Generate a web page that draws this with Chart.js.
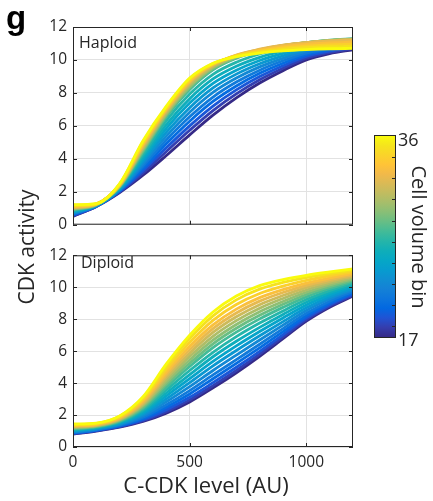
<!DOCTYPE html>
<html lang="en">
<head>
<meta charset="UTF-8">
<title>CDK activity vs C-CDK level</title>
<script src="https://cdn.jsdelivr.net/npm/chart.js"></script>
<style>
    body {
        margin: 0;
        background: #ffffff;
        font-family: 'Open Sans', sans-serif;
        color: #262626;
    }
    #wrap {
        position: relative;
        width: 433px;
        height: 501px;
        overflow: hidden;
    }
    canvas {
        position: absolute;
        left: 0;
    }
    #topChart { top: 0; }
    #botChart { top: 240px; }
    .txt {
        position: absolute;
        white-space: nowrap;
        line-height: 1;
    }
    .panel { font-size: 16px; }
    .center { transform: translate(-50%, -50%); }
    #letter {
        left: 6px;
        top: 1px;
        font-family: 'Liberation Sans', Arial, sans-serif;
        font-weight: bold;
        font-size: 33px;
        color: #000;
    }
    #colorbar {
        position: absolute;
        left: 374px;
        top: 135px;
        width: 22px;
        height: 203px;
        box-sizing: border-box;
        border: 1px solid #262626;
    }
    .cbtick {
        position: absolute;
        right: 0;
        width: 3px;
        height: 1px;
        background: #262626;
    }
</style>
</head>
<body>
<div id="wrap">
    <canvas id="topChart" width="433" height="240"></canvas>
    <canvas id="botChart" width="433" height="261"></canvas>

    <div class="txt" id="letter">g</div>
    <div class="txt panel" style="left:79px; top:34px;">Haploid</div>
    <div class="txt panel" style="left:81px; top:254px;">Diploid</div>

    <div class="txt center" style="left:26px; top:247px; font-size:21px; transform:translate(-50%,-50%) rotate(-90deg);">CDK activity</div>
    <div class="txt center" style="left:206px; top:484px; font-size:22px;">C-CDK level (AU)</div>

    <div id="colorbar"></div>
    <div class="txt" style="left:398px; top:130px; font-size:18px;">36</div>
    <div class="txt" style="left:398px; top:330px; font-size:18px;">17</div>
    <div class="txt center" style="left:419px; top:237px; font-size:20px; transform:translate(-50%,-50%) rotate(90deg);">Cell volume bin</div>
</div>

<script>
    // C-CDK level (AU) sample positions
    const cdkLevel = [0, 100, 200, 300, 400, 500, 600, 700, 800, 900, 1000, 1100, 1200];
    const bins = [17, 18, 19, 20, 21, 22, 23, 24, 25, 26, 27, 28, 29, 30, 31, 32, 33, 34, 35, 36];
    const xTicks = [0, 500, 1000];
    const yTicks = [0, 2, 4, 6, 8, 10, 12];
    const cbTicks = [18, 20, 22, 24, 26, 28, 30, 32, 34];

    // CDK activity, one row per cell volume bin (17 .. 36)
    const haploid = [
        [0.50, 1.10, 1.95, 3.00, 4.20, 5.45, 6.65, 7.70, 8.60, 9.35, 10.00, 10.38, 10.62],
        [0.54, 1.11, 1.99, 3.14, 4.44, 5.73, 6.93, 7.94, 8.80, 9.50, 10.11, 10.46, 10.69],
        [0.58, 1.12, 2.02, 3.28, 4.67, 6.00, 7.20, 8.18, 8.99, 9.65, 10.21, 10.54, 10.76],
        [0.62, 1.13, 2.06, 3.42, 4.91, 6.28, 7.48, 8.42, 9.19, 9.80, 10.32, 10.63, 10.82],
        [0.66, 1.14, 2.09, 3.56, 5.14, 6.55, 7.75, 8.66, 9.38, 9.95, 10.42, 10.71, 10.89],
        [0.70, 1.15, 2.13, 3.70, 5.38, 6.83, 8.03, 8.90, 9.58, 10.10, 10.53, 10.79, 10.96],
        [0.74, 1.16, 2.16, 3.84, 5.61, 7.10, 8.30, 9.14, 9.77, 10.25, 10.63, 10.87, 11.03],
        [0.78, 1.17, 2.20, 3.98, 5.85, 7.38, 8.58, 9.38, 9.97, 10.40, 10.74, 10.95, 11.10],
        [0.82, 1.18, 2.23, 4.12, 6.08, 7.65, 8.85, 9.62, 10.16, 10.55, 10.84, 11.04, 11.16],
        [0.86, 1.19, 2.27, 4.26, 6.32, 7.93, 9.13, 9.86, 10.36, 10.70, 10.95, 11.12, 11.23],
        [0.90, 1.20, 2.30, 4.40, 6.55, 8.20, 9.40, 10.10, 10.55, 10.85, 11.05, 11.20, 11.30],
        [0.93, 1.21, 2.32, 4.48, 6.63, 8.29, 9.46, 10.14, 10.57, 10.86, 11.05, 11.19, 11.28],
        [0.96, 1.22, 2.34, 4.56, 6.71, 8.38, 9.52, 10.18, 10.59, 10.87, 11.05, 11.18, 11.27],
        [0.99, 1.23, 2.36, 4.64, 6.79, 8.47, 9.58, 10.22, 10.61, 10.88, 11.05, 11.17, 11.25],
        [1.02, 1.24, 2.38, 4.72, 6.87, 8.56, 9.64, 10.26, 10.63, 10.89, 11.05, 11.16, 11.24],
        [1.05, 1.25, 2.40, 4.80, 6.95, 8.65, 9.70, 10.30, 10.65, 10.90, 11.05, 11.15, 11.22],
        [1.09, 1.26, 2.43, 4.88, 7.01, 8.71, 9.73, 10.28, 10.59, 10.81, 10.95, 11.03, 11.09],
        [1.14, 1.27, 2.45, 4.95, 7.08, 8.78, 9.75, 10.25, 10.54, 10.73, 10.84, 10.92, 10.96],
        [1.18, 1.27, 2.48, 5.03, 7.14, 8.84, 9.78, 10.23, 10.48, 10.64, 10.74, 10.80, 10.83],
        [1.22, 1.28, 2.50, 5.10, 7.20, 8.90, 9.80, 10.20, 10.42, 10.55, 10.63, 10.68, 10.70]
    ];

    const diploid = [
        [0.80, 1.00, 1.25, 1.60, 2.12, 2.82, 3.70, 4.65, 5.68, 6.78, 7.88, 8.75, 9.45],
        [0.82, 1.02, 1.27, 1.65, 2.21, 2.95, 3.84, 4.79, 5.81, 6.89, 7.97, 8.82, 9.50],
        [0.85, 1.04, 1.30, 1.71, 2.34, 3.11, 4.03, 4.99, 5.99, 7.04, 8.08, 8.91, 9.57],
        [0.88, 1.06, 1.33, 1.79, 2.49, 3.32, 4.27, 5.23, 6.21, 7.22, 8.22, 9.02, 9.65],
        [0.91, 1.09, 1.37, 1.86, 2.64, 3.53, 4.51, 5.47, 6.43, 7.41, 8.37, 9.13, 9.74],
        [0.95, 1.12, 1.41, 1.96, 2.83, 3.78, 4.79, 5.75, 6.70, 7.63, 8.54, 9.26, 9.84],
        [0.99, 1.15, 1.45, 2.05, 3.01, 4.03, 5.08, 6.04, 6.96, 7.85, 8.71, 9.39, 9.94],
        [1.02, 1.18, 1.50, 2.14, 3.20, 4.28, 5.36, 6.33, 7.23, 8.08, 8.89, 9.52, 10.05],
        [1.06, 1.21, 1.54, 2.24, 3.38, 4.53, 5.65, 6.62, 7.49, 8.30, 9.06, 9.66, 10.15],
        [1.10, 1.24, 1.58, 2.33, 3.57, 4.79, 5.93, 6.91, 7.76, 8.52, 9.23, 9.79, 10.25],
        [1.14, 1.27, 1.62, 2.42, 3.75, 5.04, 6.22, 7.19, 8.02, 8.74, 9.40, 9.92, 10.35],
        [1.17, 1.29, 1.66, 2.50, 3.91, 5.24, 6.46, 7.43, 8.24, 8.93, 9.55, 10.03, 10.44],
        [1.20, 1.32, 1.69, 2.58, 4.06, 5.45, 6.69, 7.67, 8.47, 9.11, 9.69, 10.14, 10.52],
        [1.24, 1.34, 1.73, 2.65, 4.21, 5.66, 6.93, 7.91, 8.69, 9.30, 9.83, 10.25, 10.61],
        [1.27, 1.37, 1.76, 2.73, 4.37, 5.87, 7.17, 8.15, 8.91, 9.48, 9.98, 10.36, 10.69],
        [1.30, 1.39, 1.80, 2.81, 4.52, 6.08, 7.41, 8.39, 9.13, 9.67, 10.12, 10.47, 10.78],
        [1.33, 1.42, 1.83, 2.89, 4.68, 6.29, 7.64, 8.63, 9.35, 9.85, 10.26, 10.58, 10.86],
        [1.37, 1.45, 1.87, 2.98, 4.86, 6.54, 7.93, 8.92, 9.61, 10.07, 10.43, 10.72, 10.96],
        [1.41, 1.48, 1.92, 3.07, 5.05, 6.79, 8.21, 9.21, 9.88, 10.30, 10.61, 10.85, 11.07],
        [1.44, 1.50, 1.95, 3.15, 5.20, 7.00, 8.45, 9.45, 10.10, 10.48, 10.75, 10.96, 11.15]
    ];

    // parula colormap (subsampled)
    const parulaStops = [
        [0.2081, 0.1663, 0.5292], [0.2081, 0.2386, 0.6771], [0.1253, 0.3242, 0.8303],
        [0.0060, 0.4086, 0.8828], [0.0498, 0.4586, 0.8641], [0.0779, 0.5040, 0.8384],
        [0.0641, 0.5570, 0.8240], [0.0265, 0.6137, 0.8135], [0.0228, 0.6535, 0.7768],
        [0.0590, 0.6838, 0.7254], [0.1453, 0.7098, 0.6646], [0.2586, 0.7317, 0.5954],
        [0.3953, 0.7459, 0.5244], [0.5300, 0.7491, 0.4661], [0.6473, 0.7456, 0.4188],
        [0.7525, 0.7384, 0.3768], [0.8507, 0.7299, 0.3360], [0.9450, 0.7261, 0.2886],
        [0.9990, 0.7653, 0.2164], [0.9789, 0.8271, 0.1633], [0.9589, 0.8949, 0.1132],
        [0.9763, 0.9831, 0.0538]
    ];

    function parula(t) {
        const p = t * (parulaStops.length - 1);
        const i = Math.min(Math.floor(p), parulaStops.length - 2);
        const f = p - i;
        const a = parulaStops[i], b = parulaStops[i + 1];
        return 'rgb(' + [0, 1, 2].map(k => Math.round(255 * (a[k] + (b[k] - a[k]) * f))).join(',') + ')';
    }

    const binMin = bins[0], binMax = bins[bins.length - 1];

    // colorbar
    const cb = document.getElementById('colorbar');
    cb.style.background = 'linear-gradient(to top, ' + parulaStops.map((c, i) =>
        parula(i / (parulaStops.length - 1)) + ' ' + (i / (parulaStops.length - 1) * 100).toFixed(2) + '%').join(', ') + ')';
    cbTicks.forEach(v => {
        const t = document.createElement('div');
        t.className = 'cbtick';
        t.style.top = Math.round((binMax - v) / (binMax - binMin) * 201) + 'px';
        cb.appendChild(t);
    });

    const framePlugin = {
        id: 'frame',
        afterDraw(chart) {
            const { ctx, chartArea: a, scales: { x, y } } = chart;
            ctx.save();
            ctx.strokeStyle = '#262626';
            ctx.lineWidth = 1;
            ctx.strokeRect(a.left + 0.5, a.top + 0.5, a.width - 1, a.height - 1);
            const len = 4;
            ctx.beginPath();
            yTicks.forEach(v => {
                const py = Math.round(y.getPixelForValue(v)) + 0.5;
                ctx.moveTo(a.left, py); ctx.lineTo(a.left + len, py);
                ctx.moveTo(a.right, py); ctx.lineTo(a.right - len, py);
            });
            xTicks.forEach(v => {
                const px = Math.round(x.getPixelForValue(v)) + 0.5;
                ctx.moveTo(px, a.top); ctx.lineTo(px, a.top + len);
                ctx.moveTo(px, a.bottom); ctx.lineTo(px, a.bottom - len);
            });
            ctx.stroke();
            ctx.restore();
        }
    };

    function buildDatasets(rows) {
        // first row drawn first, last bin ends up on top
        return rows.map((row, i) => ({
            data: row.map((v, k) => ({ x: cdkLevel[k], y: v })),
            borderColor: parula((bins[i] - binMin) / (binMax - binMin)),
            borderWidth: 2.8,
            pointRadius: 0,
            fill: false,
            cubicInterpolationMode: 'monotone',
            order: rows.length - i
        }));
    }

    function makeChart(id, rows, showX, padding, xHeight) {
        return new Chart(document.getElementById(id), {
            type: 'line',
            data: { datasets: buildDatasets(rows) },
            options: {
                responsive: false,
                animation: false,
                layout: { padding: padding },
                plugins: { legend: { display: false }, tooltip: { enabled: false } },
                scales: {
                    x: {
                        type: 'linear',
                        min: 0,
                        max: 1200,
                        afterBuildTicks: s => { s.ticks = xTicks.map(v => ({ value: v })); },
                        afterFit: s => { s.height = xHeight; },
                        grid: { color: '#e2e2e2', drawTicks: false },
                        border: { display: false },
                        ticks: {
                            display: showX,
                            padding: 6,
                            color: '#262626',
                            font: { family: 'Open Sans', size: 15.5 },
                            callback: v => String(v)
                        }
                    },
                    y: {
                        min: 0,
                        max: 12,
                        afterBuildTicks: s => { s.ticks = yTicks.map(v => ({ value: v })); },
                        afterFit: s => { s.width = 73; },
                        grid: { color: '#e2e2e2', drawTicks: false },
                        border: { display: false },
                        ticks: {
                            padding: 6,
                            color: '#262626',
                            font: { family: 'Open Sans', size: 15.5 },
                            callback: v => String(v)
                        }
                    }
                }
            },
            plugins: [framePlugin]
        });
    }

    makeChart('topChart', haploid, false, { left: 0, right: 80, top: 27, bottom: 13 }, 0);
    makeChart('botChart', diploid, true, { left: 0, right: 80, top: 7, bottom: 0 }, 54);
</script>
</body>
</html>
